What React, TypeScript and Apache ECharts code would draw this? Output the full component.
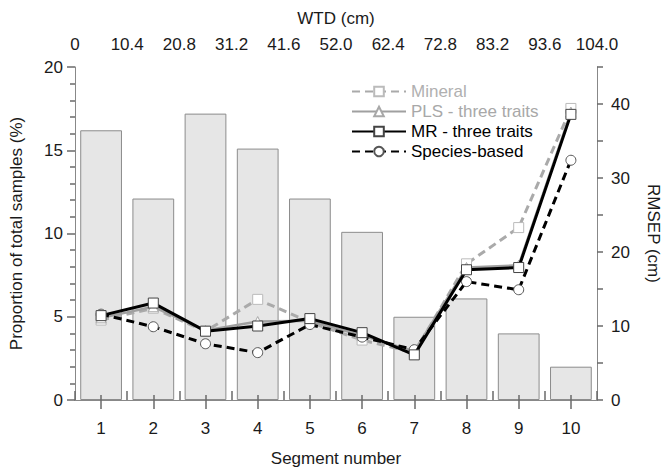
import React, { useEffect, useRef } from "react";
import * as echarts from "echarts";

const segments = ["1", "2", "3", "4", "5", "6", "7", "8", "9", "10"];
const proportion = [16.2, 12.1, 17.2, 15.1, 12.1, 10.1, 5.0, 6.1, 4.0, 2.0];
const mineral = [10.8, 12.4, 9.3, 13.6, 10.5, 8.1, 6.4, 18.4, 23.3, 39.4];
const pls = [11.1, 12.6, 9.4, 10.6, 10.7, 8.7, 6.6, 17.9, 18.2, 38.9];
const mr = [11.4, 13.1, 9.3, 10.0, 11.0, 9.1, 6.1, 17.6, 17.9, 38.6];
const species = [11.6, 9.9, 7.6, 6.4, 10.2, 8.5, 6.8, 16.0, 14.9, 32.4];

const FONT = "'Liberation Sans', Arial, sans-serif";
const AX = "#888888";
const TK = "#6a6a6a";
const TXT = "#1a1a1a";
const FS = 17;

const ls = (c: string, w = 1) => ({ color: c, width: w });

export default function App() {
  const ref = useRef<HTMLDivElement>(null);
  useEffect(() => {
    document.body.style.margin = "0";
    const chart = echarts.init(ref.current!, null, { renderer: "svg" });
    chart.setOption({
      animation: false,
      grid: { left: 75, right: 68, top: 67, bottom: 72 },
      legend: {
        orient: "vertical",
        left: 346,
        top: 78,
        itemWidth: 54,
        itemHeight: 12,
        itemGap: 3,
        textStyle: { fontSize: FS, fontFamily: FONT, color: TXT, lineHeight: 17 },
        data: [
          { name: "Mineral", textStyle: { color: "#b0b0b0" } },
          { name: "PLS - three traits", textStyle: { color: "#a8a8a8" } },
          { name: "MR - three traits", textStyle: { color: "#000" } },
          { name: "Species-based", textStyle: { color: "#000" } },
        ],
      },
      xAxis: [
        {
          type: "category",
          position: "bottom",
          z: 10,
          data: segments,
          name: "Segment number",
          nameLocation: "middle",
          nameGap: 50,
          nameTextStyle: { fontSize: FS, color: TXT, fontFamily: FONT },
          axisLine: { show: true, lineStyle: ls(AX) },
          axisTick: { show: true, interval: 0, alignWithLabel: true, length: 9, lineStyle: ls(TK, 1.5) },
          axisLabel: { fontSize: FS, color: TXT, margin: 20, fontFamily: FONT },
        },
        {
          type: "value",
          position: "top",
          z: 10,
          min: 0,
          max: 104,
          interval: 10.4,
          name: "WTD (cm)",
          nameLocation: "middle",
          nameGap: 40,
          nameTextStyle: { fontSize: FS, color: TXT, fontFamily: FONT },
          axisLine: { show: true, lineStyle: ls(AX) },
          axisTick: { show: true, length: 9, lineStyle: ls(TK, 1.5) },
          minorTick: { show: true, splitNumber: 2, length: 5, lineStyle: ls(TK, 1.5) },
          axisLabel: {
            fontSize: FS,
            color: TXT,
            margin: 14,
            fontFamily: FONT,
            formatter: (v: number) => (v === 0 ? "0" : v.toFixed(1)),
          },
          splitLine: { show: false },
        },
      ],
      yAxis: [
        {
          type: "value",
          position: "left",
          z: 10,
          min: 0,
          max: 20,
          interval: 5,
          name: "Proportion of total samples (%)",
          nameLocation: "middle",
          nameGap: 50,
          nameTextStyle: { fontSize: FS, color: TXT, fontFamily: FONT },
          axisLine: { show: true, lineStyle: ls(AX) },
          axisTick: { show: true, length: 8, lineStyle: ls(TK, 1.5) },
          minorTick: { show: true, splitNumber: 5, length: 5, lineStyle: ls(TK, 1.5) },
          axisLabel: { fontSize: FS, color: TXT, margin: 12, fontFamily: FONT },
          splitLine: { show: false },
        },
        {
          type: "value",
          position: "right",
          z: 10,
          min: 0,
          max: 45,
          interval: 5,
          name: "RMSEP (cm)",
          nameLocation: "middle",
          nameRotate: -90,
          nameGap: 48,
          nameTextStyle: { fontSize: FS, color: TXT, fontFamily: FONT },
          axisLine: { show: true, lineStyle: ls(AX) },
          axisTick: { show: true, length: 6, lineStyle: ls(TK, 1.5) },
          axisLabel: {
            fontSize: FS,
            color: TXT,
            margin: 14,
            fontFamily: FONT,
            formatter: (v: number) => (v % 10 === 0 ? String(v) : ""),
          },
          splitLine: { show: false },
        },
      ],
      series: [
        {
          type: "bar",
          name: "Proportion",
          data: proportion,
          xAxisIndex: 0,
          yAxisIndex: 0,
          barCategoryGap: "20%",
          itemStyle: { color: "#e6e6e6", borderColor: "#8c8c8c", borderWidth: 1 },
        },
        {
          type: "line",
          name: "Mineral",
          data: mineral,
          xAxisIndex: 0,
          yAxisIndex: 1,
          symbol: "rect",
          symbolSize: 10,
          lineStyle: { color: "#aaaaaa", width: 3, type: [8, 5] },
          itemStyle: { color: "#ffffff", borderColor: "#bbbbbb", borderWidth: 1 },
          z: 3,
        },
        {
          type: "line",
          name: "PLS - three traits",
          data: pls,
          xAxisIndex: 0,
          yAxisIndex: 1,
          symbol: "triangle",
          symbolSize: 10,
          lineStyle: { color: "#a0a0a0", width: 2.5, type: "solid" },
          itemStyle: { color: "#ffffff", borderColor: "#a8a8a8", borderWidth: 1 },
          z: 4,
        },
        {
          type: "line",
          name: "Species-based",
          data: species,
          xAxisIndex: 0,
          yAxisIndex: 1,
          symbol: "circle",
          symbolSize: 10,
          lineStyle: { color: "#000000", width: 3, type: [8, 5] },
          itemStyle: { color: "#ffffff", borderColor: "#555555", borderWidth: 1 },
          z: 5,
        },
        {
          type: "line",
          name: "MR - three traits",
          data: mr,
          xAxisIndex: 0,
          yAxisIndex: 1,
          symbol: "rect",
          symbolSize: 10,
          lineStyle: { color: "#000000", width: 3, type: "solid" },
          itemStyle: { color: "#ffffff", borderColor: "#444444", borderWidth: 1 },
          z: 6,
        },
      ],
    });
    return () => chart.dispose();
  }, []);
  return <div ref={ref} style={{ width: 670, height: 472 }} />;
}
